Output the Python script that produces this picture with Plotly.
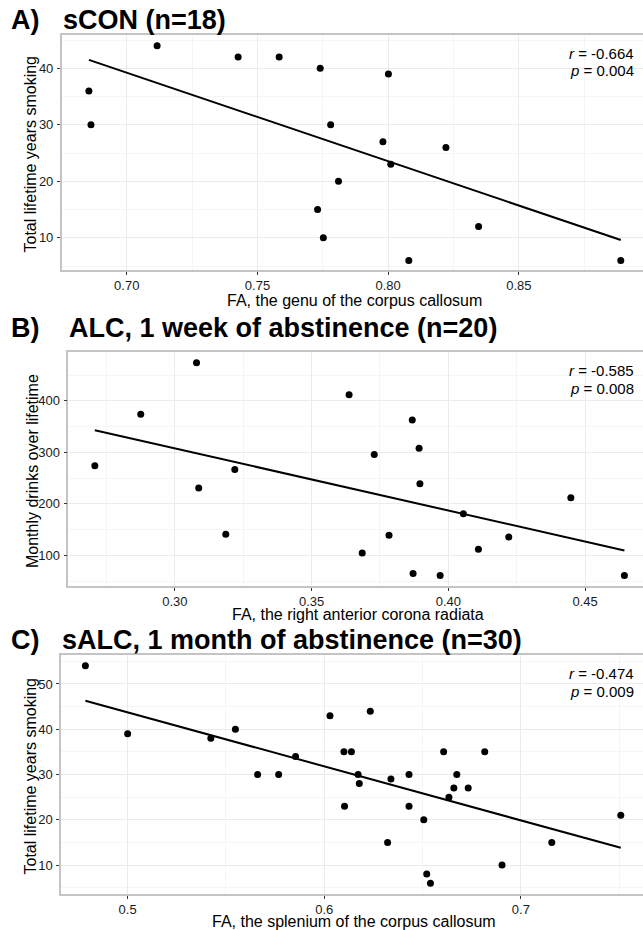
import plotly.graph_objects as go

# ---------------- data ----------------
# Panel A: sCON (n=18)
a_fa = [0.6855, 0.6863, 0.7116, 0.7426, 0.7583, 0.7740, 0.8001, 0.7780, 0.7980,
        0.8221, 0.8010, 0.7810, 0.7730, 0.7752, 0.8079, 0.8346, 0.8890]
a_years = [36, 30, 44, 42, 42, 40, 39, 30, 27, 26, 23, 20, 15, 10, 6, 12, 6]
a_fit = [41.5, 9.6]
a_stats = ["-0.664", "0.004"]

# Panel B: ALC, 1 week of abstinence (n=20)
b_fa = [0.2707, 0.2875, 0.3079, 0.3087, 0.3219, 0.3186, 0.3637, 0.3729, 0.3868, 0.3893,
        0.3896, 0.3783, 0.3685, 0.3871, 0.3970, 0.4055, 0.4110, 0.4221, 0.4448, 0.4644]
b_drinks = [274, 374, 474, 231, 267, 141, 412, 296, 363, 308,
            239, 139, 105, 65, 61, 181, 112, 136, 212, 61]
b_fit = [343, 109.6]
b_stats = ["-0.585", "0.008"]

# Panel C: sALC, 1 month of abstinence (n=30)
c_fa = [0.4785, 0.5000, 0.5423, 0.5548, 0.5661, 0.5768, 0.5854, 0.6029, 0.6100, 0.6138,
        0.6103, 0.6172, 0.6178, 0.6234, 0.6339, 0.6322, 0.6431, 0.6431, 0.6506, 0.6521,
        0.6540, 0.6607, 0.6634, 0.6659, 0.6674, 0.6732, 0.6816, 0.6904, 0.7157, 0.7508]
c_years = [54, 39, 38, 40, 30, 30, 34, 43, 35, 35,
           23, 30, 28, 44, 29, 15, 30, 23, 20, 8,
           6, 35, 25, 27, 30, 27, 35, 10, 15, 21]
c_fit = [46.3, 13.8]
c_stats = ["-0.474", "0.009"]

titles = ["sCON (n=18)", "ALC, 1 week of abstinence (n=20)", "sALC, 1 month of abstinence (n=30)"]
labels = ["A)", "B)", "C)"]
x_titles = ["FA, the genu of the corpus callosum",
            "FA, the right anterior corona radiata",
            "FA, the splenium of the corpus callosum"]
y_titles = ["Total lifetime years smoking", "Monthly drinks over lifetime", "Total lifetime years smoking"]

# ---------------- layout geometry (pixels) ----------------
W, H = 643, 930
FONT = "Liberation Sans, Arial, Helvetica, sans-serif"

def pxx(v):
    return v / W

def pyy(v):
    return 1 - v / H

panels = [
    dict(x=a_fa, y=a_years, fit=a_fit, stats=a_stats, left=61.7, top=35, bottom=270,
         xr=[0.6751, 0.8975], yr=[4.3, 45.9], xd=0.05, xm=0.025, yd=10, ym=5, xf=".2f",
         title_y=19.5, xt_y=300.5, yt_x=30),
    dict(x=b_fa, y=b_drinks, fit=b_fit, stats=b_stats, left=68.3, top=352, bottom=586,
         xr=[0.2610, 0.4712], yr=[40.8, 494.7], xd=0.05, xm=0.025, yd=100, ym=50, xf=".2f",
         title_y=327.5, xt_y=614.5, yt_x=32),
    dict(x=c_fa, y=c_years, fit=c_fit, stats=c_stats, left=61.0, top=655, bottom=894,
         xr=[0.4661, 0.7621], yr=[3.6, 56.4], xd=0.1, xm=0.05, yd=10, ym=5, xf=".1f",
         title_y=640, xt_y=921.5, yt_x=30),
]

fig = go.Figure()
annotations = []
layout_axes = {}

for i, p in enumerate(panels):
    n = "" if i == 0 else str(i + 1)
    xa, ya = "x" + n, "y" + n
    fig.add_trace(go.Scatter(
        x=p["x"], y=p["y"], mode="markers", xaxis=xa, yaxis=ya,
        marker=dict(color="black", size=7), showlegend=False, hoverinfo="x+y"))
    fig.add_trace(go.Scatter(
        x=[min(p["x"]), max(p["x"])], y=p["fit"], mode="lines", xaxis=xa, yaxis=ya,
        line=dict(color="black", width=2), showlegend=False, hoverinfo="skip"))

    xdom = [pxx(p["left"]), 1.0]
    ydom = [pyy(p["bottom"]), pyy(p["top"])]
    layout_axes["xaxis" + n] = dict(
        domain=xdom, anchor=ya, range=p["xr"], dtick=p["xd"], tick0=0, tickformat=p["xf"],
        showgrid=True, gridcolor="#ebebeb", gridwidth=1,
        minor=dict(dtick=p["xm"], tick0=0, showgrid=True, gridcolor="#f5f5f5", gridwidth=0.7),
        showline=True, linecolor="#c4c4c4", linewidth=1.5, mirror=True,
        ticks="outside", ticklen=3, tickcolor="#333333", tickwidth=1,
        zeroline=False, tickfont=dict(family=FONT, size=13, color="#1a1a1a"))
    layout_axes["yaxis" + n] = dict(
        domain=ydom, anchor=xa, range=p["yr"], dtick=p["yd"], tick0=0,
        showgrid=True, gridcolor="#ebebeb", gridwidth=1,
        minor=dict(dtick=p["ym"], tick0=0, showgrid=True, gridcolor="#f5f5f5", gridwidth=0.7),
        showline=True, linecolor="#c4c4c4", linewidth=1.5, mirror=False,
        ticks="outside", ticklen=3, tickcolor="#333333", tickwidth=1,
        ticklabelstandoff=1,
        zeroline=False, tickfont=dict(family=FONT, size=13, color="#1a1a1a"))

    # panel label and title
    annotations.append(dict(text="<b>" + labels[i] + "</b>", x=pxx(9), y=pyy(p["title_y"]),
                            xref="paper", yref="paper", xanchor="left", yanchor="middle",
                            showarrow=False, font=dict(family=FONT, size=27, color="black")))
    annotations.append(dict(text="<b>" + titles[i] + "</b>", x=pxx(p["left"] - 1), y=pyy(p["title_y"]),
                            xref="paper", yref="paper", xanchor="left", yanchor="middle",
                            showarrow=False, font=dict(family=FONT, size=27, color="black")))
    # axis titles
    annotations.append(dict(text=x_titles[i], x=pxx((p["left"] + 647) / 2), y=pyy(p["xt_y"]),
                            xref="paper", yref="paper", xanchor="center", yanchor="middle",
                            showarrow=False, font=dict(family=FONT, size=16, color="black")))
    annotations.append(dict(text=y_titles[i], x=pxx(p["yt_x"]), y=pyy((p["top"] + p["bottom"]) / 2 + 2),
                            xref="paper", yref="paper", xanchor="center", yanchor="middle",
                            textangle=-90, showarrow=False,
                            font=dict(family=FONT, size=16, color="black")))
    # statistics
    annotations.append(dict(text="<i>r</i> = " + p["stats"][0], x=pxx(636), y=pyy(p["top"] + 18),
                            xref="paper", yref="paper", xanchor="right", yanchor="middle",
                            showarrow=False, font=dict(family=FONT, size=15, color="black")))
    annotations.append(dict(text="<i>p</i> = " + p["stats"][1], x=pxx(636), y=pyy(p["top"] + 36),
                            xref="paper", yref="paper", xanchor="right", yanchor="middle",
                            showarrow=False, font=dict(family=FONT, size=15, color="black")))

fig.update_layout(
    width=W, height=H, margin=dict(l=0, r=0, t=0, b=0),
    paper_bgcolor="white", plot_bgcolor="white",
    font=dict(family=FONT, color="black"),
    annotations=annotations, showlegend=False, **layout_axes)

fig.write_html("out.html", config={"displayModeBar": False},
               post_script="document.body.style.margin='0';document.body.style.padding='0';"
                           "document.body.style.overflow='hidden';")
